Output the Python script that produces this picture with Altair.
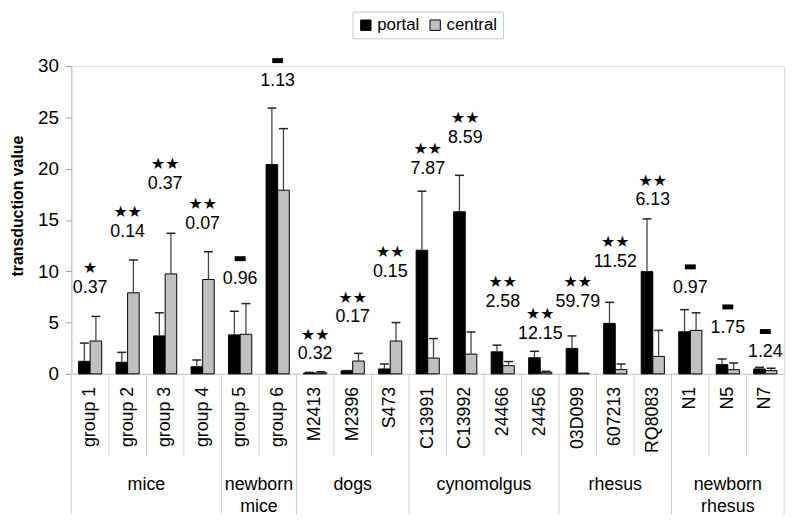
import altair as alt
import pandas as pd

samples = ["group 1", "group 2", "group 3", "group 4", "group 5", "group 6",
           "M2413", "M2396", "S473", "C13991", "C13992", "24466", "24456",
           "03D099", "607213", "RQ8083", "N1", "N5", "N7"]
group_names = ["mice", "newborn\nmice", "dogs", "cynomolgus", "rhesus", "newborn\nrhesus"]
group_sizes = [4, 2, 3, 4, 3, 3]

portal = [1.22, 1.13, 3.7, 0.7, 3.8, 20.4, 0.08, 0.3, 0.48, 12.05, 15.8, 2.15, 1.57,
          2.48, 4.92, 9.96, 4.1, 0.9, 0.48]
portal_err = [3.0, 2.1, 5.95, 1.35, 6.1, 25.9, 0.15, 0.32, 0.96, 17.8, 19.35, 2.8, 2.2,
              3.7, 6.97, 15.1, 6.26, 1.45, 0.64]
central = [3.2, 7.9, 9.74, 9.2, 3.86, 17.9, 0.1, 1.25, 3.2, 1.54, 1.93, 0.8, 0.16,
           0.04, 0.42, 1.7, 4.24, 0.41, 0.32]
central_err = [5.6, 11.1, 13.7, 11.9, 6.85, 23.9, 0.2, 2.0, 5.0, 3.44, 4.08, 1.2, 0.25,
               0.06, 0.96, 4.24, 5.95, 1.06, 0.55]

significance = ["*", "**", "**", "**", "-", "-", "**", "**", "**", "**", "**", "**", "**",
                "**", "**", "**", "-", "-", "-"]
ratios = ["0.37", "0.14", "0.37", "0.07", "0.96", "1.13", "0.32", "0.17", "0.15", "7.87",
          "8.59", "2.58", "12.15", "59.79", "11.52", "6.13", "0.97", "1.75", "1.24"]
label_heights = [8.4, 13.8, 18.5, 14.6, 9.2, 28.5, 1.9, 5.5, 9.9, 20.0, 23.0, 7.0, 3.86,
                 7.0, 10.9, 16.9, 8.4, 4.5, 2.1]

FONT = "Liberation Sans"
W, H = 720, 311

rows = []
for i, s in enumerate(samples):
    rows.append({"sample": s, "series": "portal", "value": portal[i], "err": portal_err[i]})
    rows.append({"sample": s, "series": "central", "value": central[i], "err": central_err[i]})
bars_df = pd.DataFrame(rows)

starts = []
idx = 0
for n in group_sizes:
    starts.append(idx)
    idx += n
ann_df = pd.DataFrame({"sample": samples, "sig": significance, "ratio": ratios,
                       "h": label_heights,
                       "gstart": [i in starts for i in range(len(samples))]})
# star glyphs drawn for the asterisks
ann_df["stars"] = ["\u2605" * s.count("*") for s in significance]

grp_rows = []
for g, n, st in zip(group_names, group_sizes, starts):
    grp_rows.append({"group": g, "anchor": samples[st + n // 2], "even": n % 2 == 0})
grp_df = pd.DataFrame(grp_rows)

xscale = alt.Scale(domain=samples, paddingInner=0, paddingOuter=0)
xenc = alt.X("sample:N", scale=xscale,
             axis=alt.Axis(labels=False, ticks=False, title=None, domainColor="#c8c8c8",
                           domainWidth=1, grid=False))
xoff = alt.XOffset("series:N", scale=alt.Scale(domain=["portal", "central"], paddingOuter=0.62,
                                               paddingInner=0))
yscale = alt.Scale(domain=[0, 30], nice=False)
yenc = alt.Y("value:Q", scale=yscale,
             axis=alt.Axis(values=[0, 5, 10, 15, 20, 25, 30], grid=False, tickSize=6,
                           domainColor="#bdbdbd", tickColor="#9a9a9a", labelFont=FONT,
                           labelFontSize=19, labelPadding=7, labelColor="#000",
                           title="transduction value", titleFont=FONT, titleFontSize=16,
                           titleFontWeight="bold", titleColor="#000", titleX=-54, titleY=141,
                           titleAlign="center", titleBaseline="middle", titleAngle=270))

bars = alt.Chart(bars_df).mark_bar(stroke="#000", strokeWidth=1).encode(
    x=xenc, xOffset=xoff, y=yenc,
    color=alt.Color("series:N", scale=alt.Scale(domain=["portal", "central"],
                                                range=["#000000", "#c0c0c0"]),
                    legend=alt.Legend(orient="none", legendX=284, legendY=-55,
                                      direction="horizontal", title=None,
                                      symbolType="square", symbolSize=110,
                                      symbolStrokeColor="#000", symbolStrokeWidth=1,
                                      labelFont=FONT, labelFontSize=17, labelColor="#000",
                                      strokeColor="#c8c8c8", padding=5, columnPadding=7,
                                      labelOffset=3, fillColor="#fff")),
)

err_rule = alt.Chart(bars_df).mark_rule(color="#444", strokeWidth=1.3, opacity=1).encode(
    x=alt.X("sample:N", scale=xscale), xOffset=xoff,
    y=alt.Y("value:Q", scale=yscale), y2="err:Q")
err_cap = alt.Chart(bars_df).mark_tick(color="#222", thickness=1.5, size=9, opacity=1,
                                       orient="horizontal").encode(
    x=alt.X("sample:N", scale=xscale), xOffset=xoff, y=alt.Y("err:Q", scale=yscale))

ratio_text = alt.Chart(ann_df).mark_text(font=FONT, fontSize=18, baseline="middle",
                                         align="center", color="#000").encode(
    x=alt.X("sample:N", scale=xscale), y=alt.Y("h:Q", scale=yscale), text="ratio:N")
star_text = alt.Chart(ann_df).transform_filter(alt.datum.sig != "-").mark_text(
    font="DejaVu Sans", fontSize=16, baseline="alphabetic", align="center",
    color="#000", dy=-15).encode(
    x=alt.X("sample:N", scale=xscale), y=alt.Y("h:Q", scale=yscale), text="stars:N")
dash_mark = alt.Chart(ann_df).transform_filter(alt.datum.sig == "-").mark_tick(
    color="#000", thickness=5, size=11, opacity=1, orient="horizontal").encode(
    x=alt.X("sample:N", scale=xscale), y=alt.Y("h:Q", scale=yscale),
    yOffset=alt.value(-21))

sample_labels = alt.Chart(ann_df).mark_text(font=FONT, fontSize=18, angle=270, align="right",
                                            baseline="middle", color="#000").encode(
    x=alt.X("sample:N", scale=xscale), y=alt.value(H + 13), text="sample:N")

short_div = alt.Chart(ann_df).transform_filter(~alt.datum.gstart).mark_rule(
    color="#d0d0d0", strokeWidth=1).encode(
    x=alt.X("sample:N", scale=xscale, bandPosition=0), y=alt.value(H), y2=alt.value(H + 83))
long_div = alt.Chart(ann_df).transform_filter(alt.datum.gstart).mark_rule(
    color="#d0d0d0", strokeWidth=1).encode(
    x=alt.X("sample:N", scale=xscale, bandPosition=0), y=alt.value(H), y2=alt.value(H + 142))
end_div = alt.Chart(ann_df.tail(1)).mark_rule(color="#d0d0d0", strokeWidth=1).encode(
    x=alt.X("sample:N", scale=xscale, bandPosition=1), y=alt.value(H), y2=alt.value(H + 142))

grp_even = alt.Chart(grp_df).transform_filter(alt.datum.even).mark_text(
    font=FONT, fontSize=18, align="center", baseline="top", lineBreak="\n",
    lineHeight=23, color="#000").encode(
    x=alt.X("anchor:N", scale=xscale, bandPosition=0), y=alt.value(H + 103), text="group:N")
grp_odd = alt.Chart(grp_df).transform_filter(~alt.datum.even).mark_text(
    font=FONT, fontSize=18, align="center", baseline="top", lineBreak="\n",
    lineHeight=23, color="#000").encode(
    x=alt.X("anchor:N", scale=xscale, bandPosition=0.5), y=alt.value(H + 103), text="group:N")

chart = alt.layer(
    short_div, long_div, end_div, bars, err_rule, err_cap, ratio_text, star_text, dash_mark,
    sample_labels, grp_even, grp_odd
).properties(
    width=W, height=H,
    autosize=alt.AutoSizeParams(type="none"),
    padding={"left": 64, "top": 56, "right": 8, "bottom": 145},
).configure_view(stroke=None).configure(background="#ffffff")

chart.save("out.html", embed_options={"renderer": "svg", "actions": False})
